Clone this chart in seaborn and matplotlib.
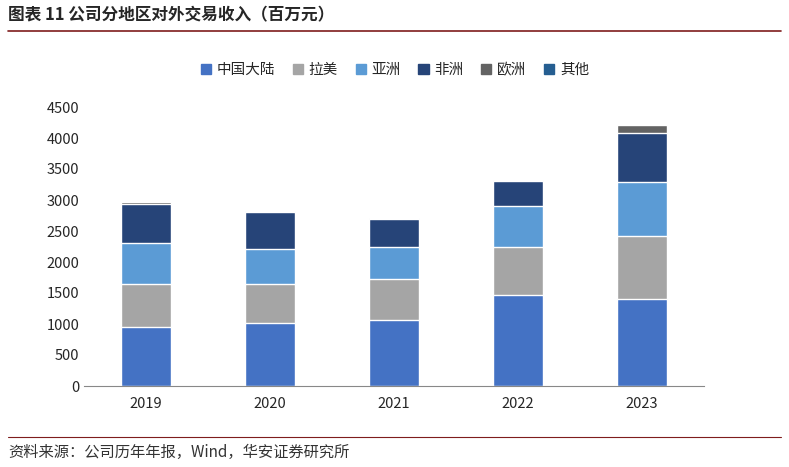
import numpy as np
import pandas as pd
import matplotlib.pyplot as plt
import seaborn as sns
from matplotlib.lines import Line2D
from matplotlib.patches import Patch

sns.set_style("white")
plt.rcParams["font.family"] = "sans-serif"
plt.rcParams["font.sans-serif"] = ["Noto Sans CJK SC", "DejaVu Sans"]

years = ["2019", "2020", "2021", "2022", "2023"]
regions = ["中国大陆", "拉美", "亚洲", "非洲", "欧洲", "其他"]
china = [950, 1015, 1065, 1470, 1400]
latam = [695, 630, 660, 770, 1020]
asia = [660, 565, 515, 660, 870]
africa = [630, 595, 450, 405, 790]
europe = [30, 10, 10, 15, 125]
other = [5, 3, 3, 3, 5]
colors = ["#4472C4", "#A5A5A5", "#5B9BD5", "#264478", "#636363", "#255E91"]

series = [china, latam, asia, africa, europe, other]
cum = np.cumsum(np.array(series), axis=0)

fig = plt.figure(figsize=(7.89, 4.67), dpi=100)
ax = fig.add_axes([84 / 789, 81 / 467, 620 / 789, 279 / 467])

# draw stacked bars from the top down so lower segments cover upper ones
for i in range(len(regions) - 1, -1, -1):
    df = pd.DataFrame({"year": years, "val": cum[i]})
    sns.barplot(data=df, x="year", y="val", color=colors[i], width=0.4,
                saturation=1, ax=ax)

ax.set_ylim(0, 4500)
ax.set_yticks(range(0, 4501, 500))
ax.set_xlabel("")
ax.set_ylabel("")
ax.tick_params(axis="both", labelsize=10.5, length=0)
ax.tick_params(axis="x", pad=8)
for s in ["top", "right", "left"]:
    ax.spines[s].set_visible(False)
ax.spines["bottom"].set_color("#888888")

handles = [Patch(color=c) for c in colors]
fig.legend(handles, regions, loc="center", bbox_to_anchor=(395 / 789, 1 - 70 / 467),
           ncol=6, frameon=False, fontsize=10.5, handlelength=0.7, handleheight=0.7,
           columnspacing=1.2, handletextpad=0.4)

fig.text(8 / 789, 1 - 15 / 467, "图表 11 公司分地区对外交易收入（百万元）",
         fontsize=12, fontweight="bold", va="center", ha="left")
fig.add_artist(Line2D([8 / 789, 781 / 789], [1 - 31 / 467] * 2, color="#7F1D1D", lw=1.2))
fig.add_artist(Line2D([8 / 789, 781 / 789], [1 - 437 / 467] * 2, color="#7F1D1D", lw=0.8))
fig.text(8 / 789, 1 - 452 / 467, "资料来源：公司历年年报，Wind，华安证券研究所",
         fontsize=11, va="center", ha="left", color="#333333")

fig.savefig("out.png", dpi=100)
